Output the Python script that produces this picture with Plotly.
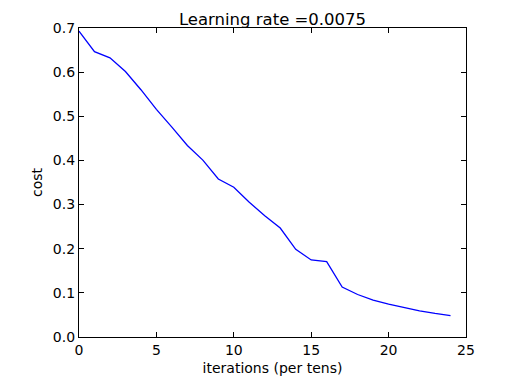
import plotly.graph_objects as go

iterations = list(range(25))
costs = [0.6930, 0.6464, 0.6325, 0.6015, 0.5602, 0.5158, 0.4755, 0.4339,
         0.4008, 0.3579, 0.3394, 0.3053, 0.2749, 0.2468, 0.1985, 0.1745,
         0.1708, 0.1131, 0.0963, 0.0834, 0.0744, 0.0663, 0.0592, 0.0534, 0.0486]
x_ticks = [0, 5, 10, 15, 20, 25]
y_ticks = [0.0, 0.1, 0.2, 0.3, 0.4, 0.5, 0.6, 0.7]

fig = go.Figure()
fig.add_trace(go.Scatter(x=iterations, y=costs, mode="lines",
                         line=dict(color="#0000ff", width=1.3), showlegend=False))

font = "DejaVu Sans, sans-serif"
axis_common = dict(showline=True, linecolor="black", linewidth=1.2, mirror="ticks",
                   ticks="inside", ticklen=5, tickcolor="black", tickwidth=1,
                   showgrid=False, zeroline=False, automargin=False,
                   tickfont=dict(size=14, color="black", family=font))
fig.update_xaxes(range=[0, 25], tickvals=x_ticks, ticktext=[str(v) for v in x_ticks],
                 title=dict(text="iterations (per tens)", font=dict(size=14, color="black", family=font), standoff=6),
                 **axis_common)
fig.update_yaxes(range=[0, 0.7], tickvals=y_ticks, ticktext=[f"{v:.1f}" for v in y_ticks],
                 title=dict(text="cost", font=dict(size=14, color="black", family=font), standoff=6),
                 **axis_common)
fig.update_layout(
    width=510, height=385,
    margin=dict(l=71, r=52, t=20, b=56),
    plot_bgcolor="white", paper_bgcolor="white",
    title=dict(text="Learning rate =0.0075", x=0.5, xref="paper", xanchor="center",
               y=1, yref="paper", yanchor="bottom", pad=dict(b=3),
               font=dict(size=16.5, color="black", family=font)),
)
fig.write_html("out.html")
